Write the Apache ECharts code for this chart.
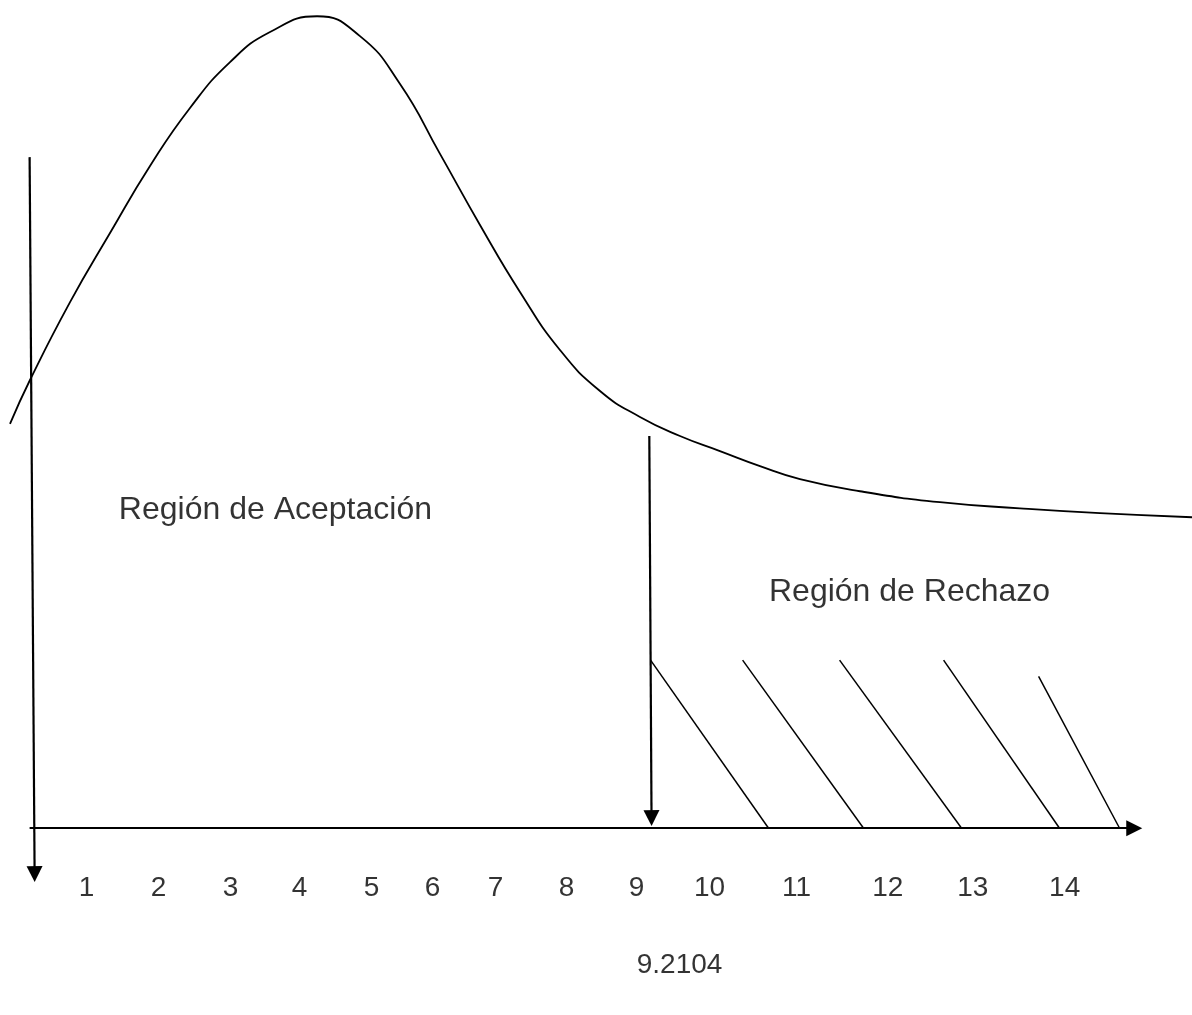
<!DOCTYPE html>
<html>
<head>
<meta charset="utf-8">
<title>Región de Aceptación / Rechazo</title>
<script src="https://cdn.jsdelivr.net/npm/echarts@6/dist/echarts.min.js"></script>
<style>
  html, body { margin: 0; padding: 0; background: #fff; }
  #chart { width: 1192px; height: 1015px; }
</style>
</head>
<body>
<div id="chart"></div>
<script>
// densidad dibujada (x en unidades del eje, y en densidad)
var curveX = [-0.265, 0.005, 0.546, 1.086, 1.626, 2.166, 2.707, 3.247, 3.882, 4.462, 5.003, 5.543, 6.083, 6.623, 7.163, 7.704, 8.244, 8.784, 9.324, 9.865, 10.405, 11.215, 12.295, 13.376, 14.457, 15.70];
var curveY = [0.0996, 0.1104, 0.1296, 0.1466, 0.1631, 0.1774, 0.1887, 0.1961, 0.2000, 0.1951, 0.1833, 0.1661, 0.1486, 0.1321, 0.1178, 0.1077, 0.1013, 0.0966, 0.0929, 0.0892, 0.0860, 0.0830, 0.0803, 0.0788, 0.0776, 0.0766];

// etiquetas del eje horizontal
var tickLabels = ['1', '2', '3', '4', '5', '6', '7', '8', '9', '10', '11', '12', '13', '14'];
var tickPos = [0.770, 1.742, 2.715, 3.647, 4.619, 5.443, 6.294, 7.253, 8.198, 9.184, 10.36, 11.59, 12.74, 13.98];
var tickLevel = -0.0148;

// valor critico
var critValue = '9.2104';
var critX = 8.37;
var critTop = 0.0966;
var critLabelPos = [8.779, -0.0337];

// ejes (flechas)
var yAxisArrow = [[0, 0.1653], [0.0675, -0.0113]];
var xAxisArrow = [[0, 0], [14.92, 0]];

// rayado de la region de rechazo
var hatchTop = [[8.387, 0.0414], [9.630, 0.0414], [10.94, 0.0414], [12.345, 0.0414], [13.628, 0.0374]];
var hatchBottom = [[9.981, 0], [11.264, 0], [12.588, 0], [13.911, 0], [14.722, 0]];

// textos de regiones
var regionNames = ['Región de Aceptación', 'Región de Rechazo'];
var regionPos = [[3.32, 0.0783], [11.885, 0.0581]];

(function () {
    var myChart = echarts.init(document.getElementById('chart'))

    var curveData = curveX.map(function (x, i) { return [x, curveY[i]] })
    var hatchData = hatchTop.map(function (p, i) { return { coords: [p, hatchBottom[i]] } })
    var tickData = tickLabels.map(function (t, i) { return { name: t, value: [tickPos[i], tickLevel] } })
    var regionData = regionNames.map(function (t, i) { return { name: t, value: regionPos[i] } })

    // texto centrado sobre el punto
    function makeLabel(size) {
        return {
            show: true,
            position: 'top',
            distance: 0,
            verticalAlign: 'middle',
            align: 'center',
            formatter: '{b}',
            color: '#000',
            fontFamily: '"Liberation Sans", Arial, sans-serif',
            fontSize: size
        }
    }

    var option = {
        backgroundColor: '#fff',
        animation: false,
        textStyle: { color: '#000' },
        grid: { left: 0, right: 0, top: 0, bottom: 0 },
        xAxis: { type: 'value', min: -0.4, max: 15.7, show: false },
        yAxis: { type: 'value', min: -0.046, max: 0.204, show: false },
        series: [
            {
                name: 'curva',
                type: 'line',
                data: curveData,
                smooth: 0.5,
                showSymbol: false,
                clip: false,
                lineStyle: { color: '#000', width: 1.8 }
            },
            {
                name: 'ejes',
                type: 'lines',
                coordinateSystem: 'cartesian2d',
                symbol: ['none', 'triangle'],
                symbolSize: [14, 16],
                lineStyle: { color: '#000', width: 2.2, opacity: 1 },
                data: [
                    { coords: yAxisArrow },
                    { coords: xAxisArrow },
                    { coords: [[critX, critTop], [critX + 0.03, 0.0025]] }
                ]
            },
            {
                name: 'rayado',
                type: 'lines',
                coordinateSystem: 'cartesian2d',
                symbol: 'none',
                lineStyle: { color: '#000', width: 1.5, opacity: 1 },
                data: hatchData
            },
            {
                name: 'marcas',
                type: 'scatter',
                symbolSize: 0,
                itemStyle: { color: '#000' },
                label: makeLabel(28),
                data: tickData.concat([{ name: critValue, value: critLabelPos }])
            },
            {
                name: 'regiones',
                type: 'scatter',
                symbolSize: 0,
                itemStyle: { color: '#000' },
                label: makeLabel(32),
                data: regionData
            }
        ]
    };

    myChart.setOption(option)

    window.addEventListener('resize', function () {
        myChart.resize()
    })
})();
</script>
</body>
</html>
